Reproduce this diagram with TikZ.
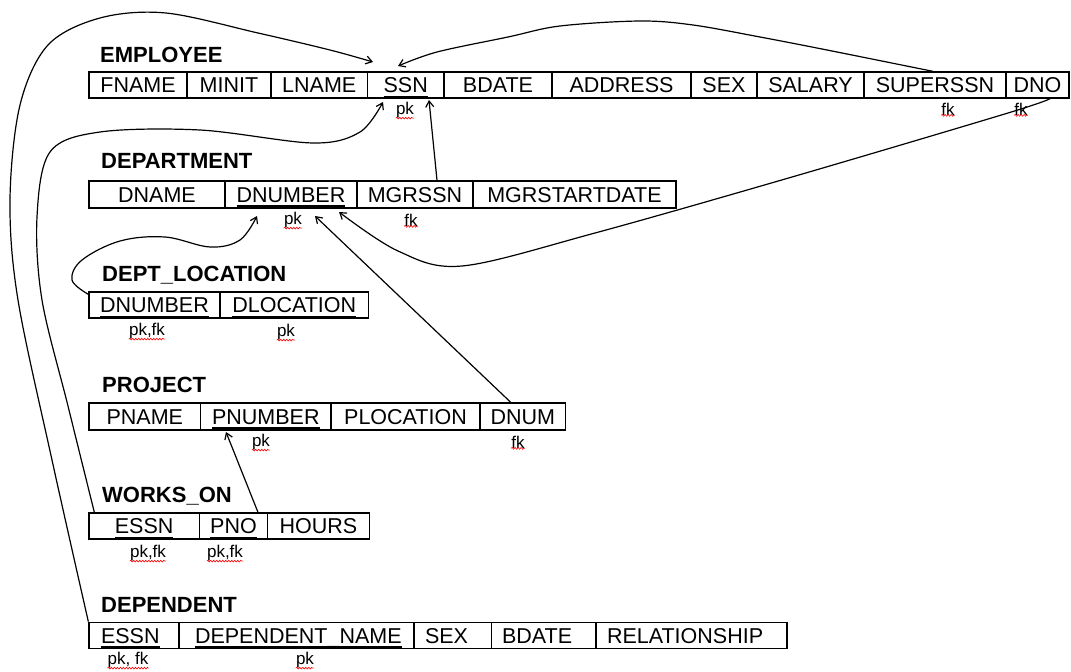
\documentclass[tikz,border=0pt]{standalone}
\usepackage{fontspec}
\setmainfont{Liberation Sans}
\usetikzlibrary{arrows.meta,decorations.pathmorphing,calc}

% type sizes (1pt on the page = 1 unit of the drawing)
\newcommand\cellfont{\fontsize{21.5}{24}\selectfont}
\newcommand\titlefont{\bfseries\fontsize{22}{26}\selectfont}
\newcommand\tagfont{\fontsize{17}{19}\selectfont}
% key attribute: text with a heavy rule under it
\newcommand\keyul[1]{\setbox0=\hbox{#1}\rlap{\copy0}\rule[-5pt]{\wd0}{2.2pt}}

\begin{document}
\begin{tikzpicture}[x=1pt,y=-1pt,
  cell/.style={draw,line width=1.3pt,minimum height=26pt,inner sep=0pt,
    text height=15.4pt,text depth=0pt,font=\cellfont},
  lcell/.style n args={2}{cell,text width=#1,inner xsep=#2,align=left},
  title/.style={font=\titlefont,anchor=base west,inner sep=0pt},
  wavy/.style={draw=red,line width=0.6pt,decorate,
    decoration={snake,amplitude=0.9pt,segment length=3pt}},
  tag/.style={font=\tagfont,inner sep=0pt,
    append after command={(\tikzlastnode.south west) edge[wavy] (\tikzlastnode.south east)}},
  link/.style={line width=1.2pt,-{Straight Barb[length=6pt,width=8pt]}}]

\useasboundingbox (0,0) rectangle (1071,672);

% ---------------- EMPLOYEE
\node[title] (t-emp) at (100,62) {EMPLOYEE};
\node[cell,minimum width=98]   (emp-fname)  at (138,85)    {FNAME};
\node[cell,minimum width=84]   (emp-minit)  at (229,85)    {MINIT};
\node[cell,minimum width=96.5] (emp-lname)  at (319.25,85) {LNAME};
\node[cell,minimum width=76.5] (emp-ssn)    at (405.75,85) {\keyul{SSN}};
\node[cell,minimum width=108]  (emp-bdate)  at (498,85)    {BDATE};
\node[cell,minimum width=139]  (emp-addr)   at (621.5,85)  {ADDRESS};
\node[cell,minimum width=66]   (emp-sex)    at (724,85)    {SEX};
\node[cell,minimum width=107]  (emp-salary) at (810.5,85)  {SALARY};
\node[cell,minimum width=142]  (emp-super)  at (935,85)    {SUPERSSN};
\node[cell,minimum width=63]   (emp-dno)    at (1037.5,85) {DNO};
\node[tag] (emp-ssn-k)   at (405,110)  {pk};
\node[tag] (emp-super-k) at (948,109)  {fk};
\node[tag] (emp-dno-k)   at (1021,109) {fk};

% ---------------- DEPARTMENT
\node[title] (t-dept) at (101,168) {DEPARTMENT};
\node[cell,minimum height=27,minimum width=136] (dept-dname) at (157,194.5)   {DNAME};
\node[cell,minimum height=27,minimum width=132] (dept-dnum)  at (291,194.5)   {\keyul{DNUMBER}};
\node[cell,minimum height=27,minimum width=116] (dept-mgr)   at (415,194.5)   {MGRSSN};
\node[cell,minimum height=27,minimum width=203] (dept-start) at (574.5,194.5) {MGRSTARTDATE};
\node[tag] (dept-dnum-k) at (293,220) {pk};
\node[tag] (dept-mgr-k)  at (411,220) {fk};

% ---------------- DEPT_LOCATION
\node[title] (t-dl) at (102,281) {DEPT\_LOCATION};
\node[cell,minimum width=131]   (dl-dnum) at (154.5,305)  {\keyul{DNUMBER}};
\node[cell,minimum width=148.5] (dl-loc)  at (294.25,305) {\keyul{DLOCATION}};
\node[tag] (dl-dnum-k) at (147,331) {pk,fk};
\node[tag] (dl-loc-k)  at (286,332) {pk};

% ---------------- PROJECT
\node[title] (t-proj) at (102,392) {PROJECT};
\node[cell,minimum height=27,minimum width=111.7] (proj-pname) at (144.85,416.5) {PNAME};
\node[cell,minimum height=27,minimum width=130.3] (proj-pnum)  at (265.85,416.5) {\keyul{PNUMBER}};
\node[cell,minimum height=27,minimum width=149]   (proj-ploc)  at (405.5,416.5)  {PLOCATION};
\node[cell,minimum height=27,minimum width=85.5]  (proj-dnum)  at (522.75,416.5) {DNUM};
\node[tag] (proj-pnum-k) at (261,442) {pk};
\node[tag] (proj-dnum-k) at (518,442) {fk};

% ---------------- WORKS_ON
\node[title] (t-wo) at (102,502) {WORKS\_ON};
\node[cell,minimum width=110.3] (wo-essn)  at (144.15,526) {\keyul{ESSN}};
\node[cell,minimum width=68.4]  (wo-pno)   at (233.5,526)  {\keyul{PNO}};
\node[cell,minimum width=101.6] (wo-hours) at (318.5,526)  {HOURS};
\node[tag] (wo-essn-k) at (148,553) {pk,fk};
\node[tag] (wo-pno-k)  at (225,553) {pk,fk};

% ---------------- DEPENDENT
\node[title] (t-dep) at (101,612) {DEPENDENT};
\node[lcell={66pt}{12pt}]     (dep-essn)  at (134,635.3)    {\keyul{ESSN}};
\node[lcell={203pt}{16pt}]    (dep-name)  at (296.5,635.3)  {\keyul{DEPENDENT\_NAME}};
\node[lcell={55.5pt}{11pt}]   (dep-sex)   at (452.75,635.3) {SEX};
\node[lcell={83.5pt}{10.5pt}] (dep-bdate) at (543.75,635.3) {BDATE};
\node[lcell={169pt}{11pt}]    (dep-rel)   at (691.5,635.3)  {RELATIONSHIP};
\node[tag] (dep-essn-k) at (128,660) {pk, fk};
\node[tag] (dep-name-k) at (305,660) {pk};

% ---------------- arrow targets beside the key columns
\coordinate (ssn-in-a)  at (373,62);
\coordinate (ssn-in-b)  at (398,66);
\coordinate (ssn-in-c)  at (383,102);
\coordinate (ssn-in-d)  at (429,100);
\coordinate (dnum-in-a) at (257,216);
\coordinate (dnum-in-b) at (315,216);
\coordinate (dnum-in-c) at (339,212);
\coordinate (pnum-in-a) at (226,432);

% ---------------- references
\draw[link] plot[smooth,tension=0.55] coordinates {(dep-essn.north west) (52,460) (18,300)
  (10,200) (20,105) (48,45) (100,18) (166,13) (258,33) (330,50) (ssn-in-a)};
\draw[link] plot[smooth,tension=0.55] coordinates {([xshift=6pt]wo-essn.north west) (68,406)
  (42,300) (37,217) (50,152) (100,132) (200,130) (313,143) (360,132) (ssn-in-c)};
\draw[link] ([xshift=22pt]dept-mgr.north) -- (ssn-in-d);
\draw[link] plot[smooth,tension=0.55] coordinates {([xshift=-2pt]emp-super.north) (827,50)
  (760,37) (693,25) (640,21) (560,26) (508,37) (437,52) (ssn-in-b)};
\draw[link] plot[smooth,tension=0.55] coordinates {([xshift=12.5pt]emp-dno.south) (1008,113)
  (792,177) (595,233) (462,266) (398,251) (dnum-in-c)};
\draw[link] ([xshift=-12pt]proj-dnum.north) -- (dnum-in-b);
\draw[link] plot[smooth,tension=0.6] coordinates {([yshift=-3pt]dl-dnum.north west) (72,280)
  (82,260) (120,241) (165,237) (210,247) (240,240) (dnum-in-a)};
\draw[link] ([xshift=24.5pt]wo-pno.north) -- (pnum-in-a);
\end{tikzpicture}
\end{document}
